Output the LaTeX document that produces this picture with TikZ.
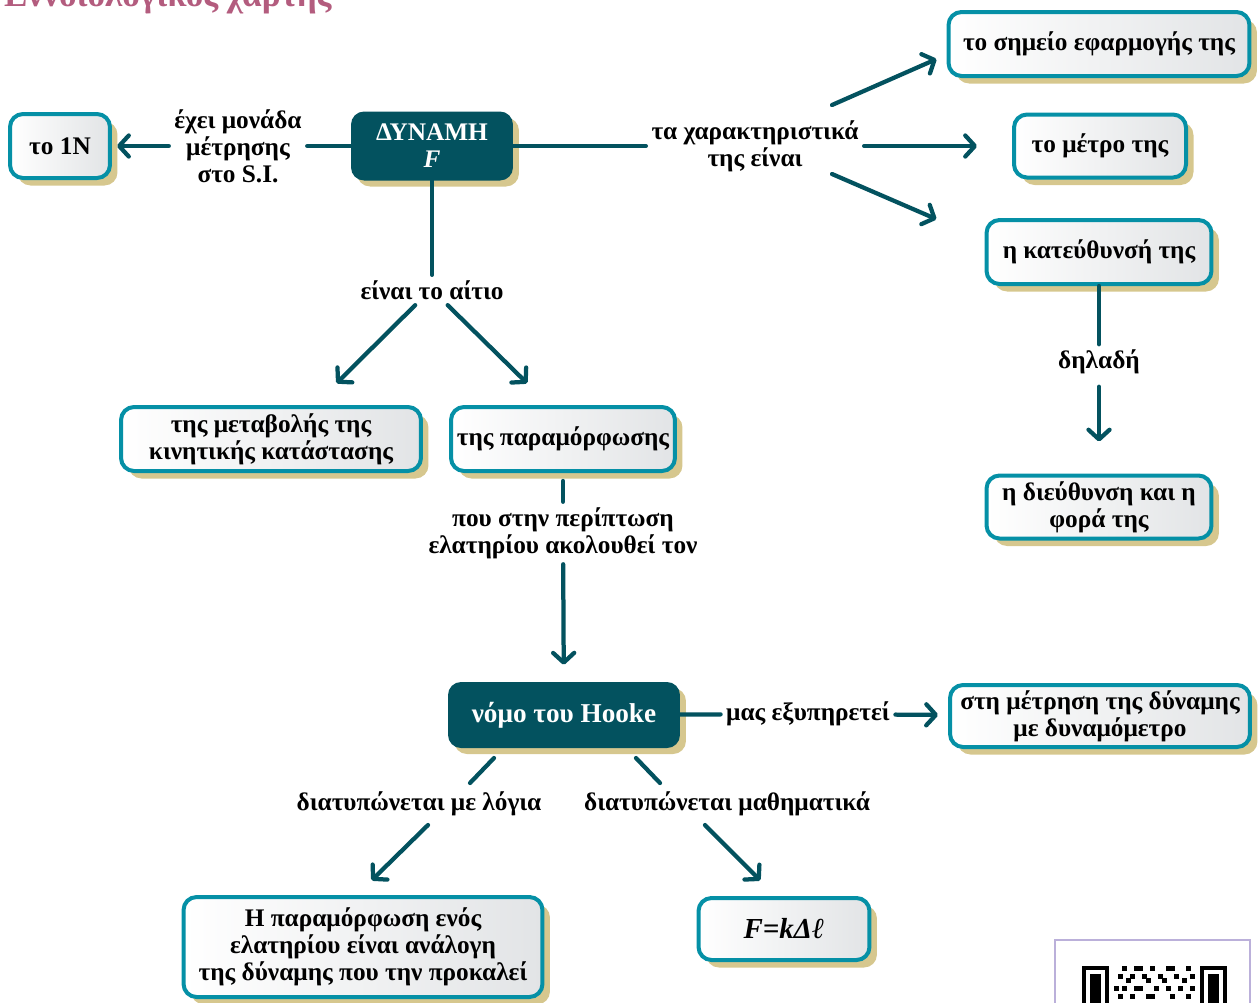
\documentclass[tikz,border=0pt]{standalone}
\usepackage{fontspec}
\setmainfont{Liberation Serif}
\usetikzlibrary{arrows.meta, shadows}
\definecolor{conceptTeal}{HTML}{03525F}
\definecolor{borderTeal}{HTML}{0590A6}
\definecolor{shadowGold}{HTML}{D6C78E}
\definecolor{boxGrey}{HTML}{E2E4E6}
\definecolor{titleRose}{HTML}{B35C7E}
\definecolor{qrLilac}{HTML}{BBB0DA}

\begin{document}
\begin{tikzpicture}[
    x=0.02cm, y=-0.02cm,
    every node/.style={font=\bfseries\fontsize{14.4}{15.4}\selectfont, align=center},
    concept/.style={draw=borderTeal, line width=0.08cm, rounded corners=0.26cm, left color=white, right color=boxGrey, text=black, inner sep=2pt,
      drop shadow={shadow xshift=0.15cm, shadow yshift=-0.15cm, fill=shadowGold, opacity=1}},
    keyconcept/.style={fill=conceptTeal, text=white, rounded corners=0.26cm, inner sep=2pt,
      drop shadow={shadow xshift=0.12cm, shadow yshift=-0.12cm, fill=shadowGold, opacity=1}},
    linkword/.style={inner sep=3pt},
    link/.style={conceptTeal, line width=0.085cm, line cap=round},
    arrow/.style={link, -{Straight Barb[length=5.5pt, width=12pt, round]}}
  ]
  \useasboundingbox (0,0) rectangle (1260,1002);

  \node[anchor=base west, text=titleRose, font=\bfseries\fontsize{20}{22}\selectfont] (title) at (-2,6) {Εννοιολογικός χάρτης};

  \node[keyconcept, minimum width=3.24cm, minimum height=1.38cm] (force) at (432,146) {ΔΥΝΑΜΗ\\\textit{F}};
  \node[concept, minimum width=2.0cm, minimum height=1.28cm] (unitbox) at (60,146) {το 1N};
  \node[concept, minimum width=6.02cm, minimum height=1.28cm] (point) at (1099,44) {το σημείο εφαρμογής της};
  \node[concept, minimum width=3.44cm, minimum height=1.26cm] (magnitude) at (1100,146) {το μέτρο της};
  \node[concept, minimum width=4.5cm, minimum height=1.28cm] (direction) at (1099,252) {η κατεύθυνσή της};
  \node[concept, minimum width=4.5cm, minimum height=1.26cm] (sense) at (1099,507) {η διεύθυνση και η\\φορά της};
  \node[concept, minimum width=6.0cm, minimum height=1.28cm] (motion) at (271,439) {της μεταβολής της\\κινητικής κατάστασης};
  \node[concept, minimum width=4.48cm, minimum height=1.28cm] (deform) at (563,439) {της παραμόρφωσης};
  \node[keyconcept, minimum width=4.64cm, minimum height=1.32cm, font=\bfseries\fontsize{15.5}{17}\selectfont] (hooke) at (564,715) {νόμο του Hooke};
  \node[concept, minimum width=6.0cm, minimum height=1.24cm] (meter) at (1100,716) {στη μέτρηση της δύναμης\\με δυναμόμετρο};
  \node[concept, minimum width=7.18cm, minimum height=2.0cm] (words) at (363,947) {Η παραμόρφωση ενός\\ελατηρίου είναι ανάλογη\\της δύναμης που την προκαλεί};
  \node[concept, minimum width=3.42cm, minimum height=1.24cm, font=\bfseries\itshape\fontsize{16.5}{18}\selectfont] (formula) at (784,929) {F=kΔℓ};

  \node[linkword] (unitlbl) at (238,146) {έχει μονάδα\\μέτρησης\\στο S.I.};
  \node[linkword] (charlbl) at (755,146) {τα χαρακτηριστικά\\της είναι};
  \node[linkword] (causelbl) at (432,290) {είναι το αίτιο};
  \node[linkword] (thatlbl) at (1099,362) {δηλαδή};
  \node[linkword] (springlbl) at (563,533) {που στην περίπτωση\\ελατηρίου ακολουθεί τον};
  \node[linkword] (servelbl) at (808,714) {μας εξυπηρετεί};
  \node[linkword] (wordslbl) at (419,804) {διατυπώνεται με λόγια};
  \node[linkword] (mathlbl) at (727,804) {διατυπώνεται μαθηματικά};
  \coordinate (charup) at (832,105);
  \coordinate (chardown) at (832,174);
  \coordinate (hookeleft) at (494,758);
  \coordinate (hookeright) at (636,758);
  \coordinate (wordsin) at (470,783);
  \coordinate (mathin) at (660,783);
  \coordinate (wordsout) at (428,825);
  \coordinate (mathout) at (705,825);

  \draw[link] (force) -- (unitlbl);
  \draw[arrow, shorten >=0.1cm] (unitlbl) -- (unitbox);
  \draw[link] (force) -- (charlbl);
  \draw[arrow, shorten >=0.7cm] (charlbl) -- (magnitude);
  \draw[arrow, shorten >=0.22cm] (charup) -- (point.184);
  \draw[arrow, shorten >=1.05cm] (chardown) -- (direction.174);
  \draw[link] (force) -- (causelbl);
  \draw[arrow, shorten >=0.62cm] (causelbl.222) -- (motion.38);
  \draw[arrow, shorten >=0.62cm] (causelbl.316) -- (deform.112);
  \draw[link] (direction) -- (thatlbl);
  \draw[arrow, shorten <=0.14cm, shorten >=0.64cm] (thatlbl) -- (sense);
  \draw[link, shorten <=0.16cm] (deform) -- (springlbl);
  \draw[arrow, shorten >=0.34cm] (springlbl) -- (hooke);
  \draw[link] (hooke) -- (servelbl);
  \draw[arrow, shorten >=0.2cm] (servelbl) -- (meter);
  \draw[link] (hookeleft) -- (wordsin);
  \draw[arrow, shorten >=0.42cm] (wordsout) -- (words.97);
  \draw[link] (hookeright) -- (mathin);
  \draw[arrow, shorten >=0.44cm] (mathout) -- (formula.104);

  \draw[qrLilac, line width=0.04cm] (1055,940) rectangle (1250,1030);
  \foreach \qx in {1082,1200}{
    \fill[black] (\qx,966) rectangle ++(27,40);
    \fill[white] (\qx+4,970) rectangle ++(19,40);
    \fill[black] (\qx+8,974) rectangle ++(11,40);
  }
  \foreach \mx/\my in {1122/966,1134/966,1138/966,1150/966,1166/966,1170/966,1186/966,
      1118/974,1130/974,1142/974,1158/974,1174/974,1190/974,1126/978,1146/978,1162/978,1182/978,
      1114/986,1122/986,1134/986,1138/986,1154/986,1166/986,1178/986,1190/986,
      1118/994,1130/994,1146/994,1150/994,1170/994,1186/994}{
    \fill[black] (\mx,\my) rectangle ++(5,5);
  }
\end{tikzpicture}
\end{document}
